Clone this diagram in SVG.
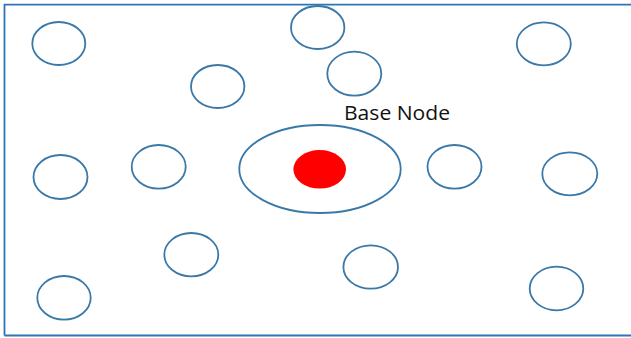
<svg xmlns="http://www.w3.org/2000/svg" width="631" height="338" viewBox="0 0 631 338">
<style>
.n{fill:none;stroke:#3a78a8;stroke-width:1.8}
.frame{fill:none;stroke:#2e75b6;stroke-width:1.8}
.lbl{font-family:"Open Sans","Liberation Sans",sans-serif;font-size:19.5px;fill:#111}
</style>
<rect width="631" height="338" fill="#fff"/>
<path class="frame" d="M4.5,335.5 V4.7 H631 M4.5,335.5 H631"/>
<g id="connectors"></g>
<g id="n1"><ellipse class="n" cx="58.8" cy="43.5" rx="26.5" ry="21.5"/></g>
<g id="n2"><ellipse class="n" cx="217.7" cy="86.5" rx="26.7" ry="21.5"/></g>
<g id="n3"><ellipse class="n" cx="317.7" cy="27.5" rx="26.7" ry="21.5"/></g>
<g id="n4"><ellipse class="n" cx="354.3" cy="73.7" rx="27" ry="22"/></g>
<g id="n5"><ellipse class="n" cx="543.8" cy="43.8" rx="27" ry="21.5"/></g>
<g id="n6"><ellipse class="n" cx="60.5" cy="177" rx="27" ry="22"/></g>
<g id="n7"><ellipse class="n" cx="158.7" cy="166.8" rx="27" ry="21.8"/></g>
<g id="n8"><ellipse class="n" cx="454.5" cy="166.8" rx="27" ry="21.8"/></g>
<g id="n9"><ellipse class="n" cx="569.8" cy="173.8" rx="27.5" ry="21.5"/></g>
<g id="n10"><ellipse class="n" cx="191.3" cy="254.7" rx="27" ry="21.7"/></g>
<g id="n11"><ellipse class="n" cx="64" cy="297.8" rx="26.7" ry="21.8"/></g>
<g id="n12"><ellipse class="n" cx="370.7" cy="267" rx="27.3" ry="21.7"/></g>
<g id="n13"><ellipse class="n" cx="556.5" cy="288.5" rx="26.8" ry="21.8"/></g>
<g id="base">
<ellipse class="n" cx="320" cy="169" rx="80.7" ry="44"/>
<ellipse cx="319.7" cy="169.3" rx="26.3" ry="19.3" fill="#ff0000"/>
<text class="lbl" x="344" y="120" textLength="106" lengthAdjust="spacingAndGlyphs">Base Node</text>
</g>
</svg>
